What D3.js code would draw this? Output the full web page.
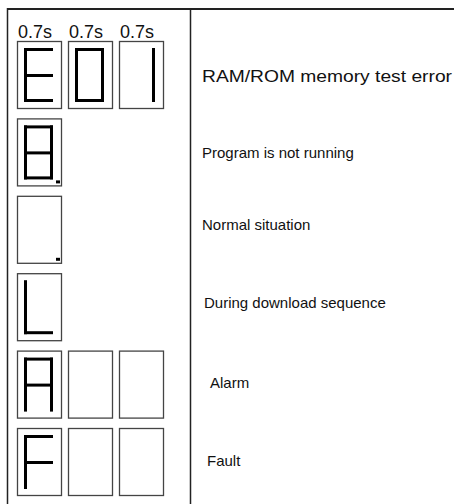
<!DOCTYPE html>
<html>
<head>
<meta charset="utf-8">
<script src="https://cdn.jsdelivr.net/npm/d3@7"></script>
<style>
  html, body { margin: 0; padding: 0; background: #fff; }
  svg { display: block; }
  text { font-family: "Liberation Sans", Arial, sans-serif; fill: #111; }
</style>
</head>
<body>
<div id="chart"></div>
<script>
// ---- data ----
const timeLabels = ["0.7s", "0.7s", "0.7s"];
const displayCodes = [
  ["E", "0", "1"],
  ["8."],
  ["."],
  ["L"],
  ["A", "", ""],
  ["F", "", ""]
];
const descriptions = [
  "RAM/ROM memory test error",
  "Program is not running",
  "Normal situation",
  "During download sequence",
  "Alarm",
  "Fault"
];

// ---- layout (not data) ----
const descX = [202, 202, 202, 204, 210, 207];
const descY = [78, 154, 226, 304, 384, 462];

// seven-segment encoding
const segMap = {
  "E": ["a", "d", "e", "f", "g"],
  "0": ["a", "b", "c", "d", "e", "f"],
  "1": ["b", "c"],
  "8": ["a", "b", "c", "d", "e", "f", "g"],
  "L": ["d", "e", "f"],
  "A": ["a", "b", "c", "e", "f", "g"],
  "F": ["a", "e", "f", "g"],
  "": []
};

const W = 454, H = 504;
const svg = d3.select("#chart").append("svg").attr("width", W).attr("height", H);

const rowScale = d3.scaleLinear().domain([0, displayCodes.length - 1]).range([41, 428]);
const colScale = d3.scaleLinear().domain([0, 1]).range([17, 68]);
const boxW = 44, boxH = 67;

// frame
svg.append("line").attr("x1", 7).attr("x2", W).attr("y1", 9).attr("y2", 9)
  .attr("stroke", "#222").attr("stroke-width", 2);
svg.append("line").attr("x1", 7.5).attr("x2", 7.5).attr("y1", 8).attr("y2", H)
  .attr("stroke", "#222").attr("stroke-width", 1.5);
svg.append("line").attr("x1", 190.5).attr("x2", 190.5).attr("y1", 8).attr("y2", H)
  .attr("stroke", "#222").attr("stroke-width", 1.5);

// time labels
svg.selectAll("text.time").data(timeLabels).join("text")
  .attr("class", "time")
  .attr("x", (d, i) => colScale(i) + 1)
  .attr("y", 38)
  .attr("font-size", 18)
  .text(d => d);

// segment geometry (relative to box)
const xl = 8.5, xr = 34.5, yt = 8.5, ym = 34.5, yb = 59.5;
const segLines = {
  a: [[xl, yt, xr, yt]],
  g: [[xl, ym, xr, ym]],
  d: [[xl, yb, xr, yb]],
  f: [[xl, yt, xl, ym - 0.8]],
  e: [[xl, ym + 0.8, xl, yb]],
  b: [[xr, yt, xr, ym - 0.8]],
  c: [[xr, ym + 0.8, xr, yb]]
};

displayCodes.forEach((codes, r) => {
  const gRow = svg.append("g").attr("transform", `translate(0,${rowScale(r)})`);
  codes.forEach((code, c) => {
    const g = gRow.append("g").attr("transform", `translate(${colScale(c)},0)`);
    g.append("rect").attr("x", 0.5).attr("y", 0.5).attr("width", boxW).attr("height", boxH)
      .attr("fill", "none").attr("stroke", "#444").attr("stroke-width", 1.3);
    const ch = code.replace(".", "");
    const segs = segMap[ch] || [];
    segs.forEach(s => {
      segLines[s].forEach(l => {
        g.append("line").attr("x1", l[0]).attr("y1", l[1]).attr("x2", l[2]).attr("y2", l[3])
          .attr("stroke", "#000").attr("stroke-width", 3).attr("stroke-linecap", "square");
      });
    });
    if (code.includes(".")) {
      g.append("rect").attr("x", 39).attr("y", 62).attr("width", 4).attr("height", 3).attr("fill", "#000");
    }
  });
  const t = svg.append("text")
    .attr("x", descX[r])
    .attr("y", descY[r])
    .attr("dominant-baseline", "middle")
    .attr("font-size", r === 0 ? 16 : 15)
    .text(descriptions[r]);
  if (r === 0) t.attr("textLength", 250).attr("lengthAdjust", "spacingAndGlyphs");
});
</script>
</body>
</html>
